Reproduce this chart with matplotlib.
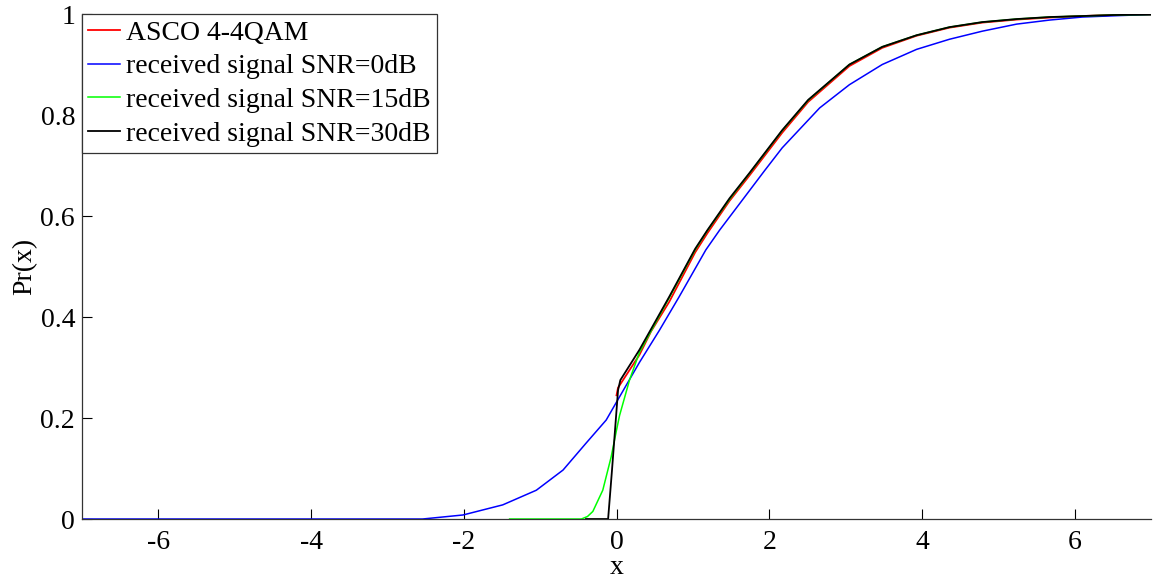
import matplotlib
matplotlib.use("Agg")
import matplotlib.pyplot as plt

plt.rcParams['font.family'] = ['Liberation Serif', 'DejaVu Serif']

# ---- data ----
labels = ["ASCO 4-4QAM", "received signal SNR=0dB",
          "received signal SNR=15dB", "received signal SNR=30dB"]

asco_x = [0.0, 0.02, 0.3, 0.454, 0.69, 1.03, 1.19, 1.48, 1.74, 2.17, 2.51,
          3.05, 3.48, 3.93, 4.36, 4.79, 5.24, 5.67, 6.1, 6.5, 7.0]
asco_y = [0.245, 0.26, 0.325, 0.372, 0.43, 0.528, 0.566, 0.63, 0.68, 0.765,
          0.826, 0.897, 0.933, 0.957, 0.973, 0.983, 0.989, 0.993, 0.996,
          0.998, 0.999]

snr0_x = [-7.0, -2.54, -2.01, -1.49, -1.05, -0.70, -0.40, -0.135, 0.017,
          0.3, 0.563, 0.82, 1.17, 1.35, 1.65, 1.94, 2.17, 2.66, 3.05, 3.48,
          3.93, 4.36, 4.79, 5.24, 5.67, 6.1, 6.6, 7.0]
snr0_y = [0.0, 0.0, 0.008, 0.028, 0.057, 0.097, 0.15, 0.196, 0.236,
          0.31, 0.374, 0.44, 0.533, 0.572, 0.632, 0.69, 0.735, 0.814, 0.86,
          0.90, 0.93, 0.95, 0.966, 0.98, 0.988, 0.994, 0.997, 0.999]

snr15_x = [-1.4, -0.46, -0.38, -0.31, -0.18, -0.07, 0.0, 0.04, 0.17, 0.3,
           0.69, 1.03, 1.19, 1.48, 1.74, 2.17, 2.51, 3.05, 3.48, 3.93, 4.36,
           4.79, 5.24, 5.67, 6.1, 6.5, 7.0]
snr15_y = [0.0, 0.0, 0.005, 0.015, 0.057, 0.123, 0.176, 0.205, 0.275, 0.33,
           0.438, 0.533, 0.571, 0.633, 0.684, 0.769, 0.829, 0.90, 0.935,
           0.958, 0.974, 0.984, 0.99, 0.994, 0.996, 0.998, 0.999]

snr30_x = [-0.4, -0.11, -0.06, -0.02, 0.02, 0.05, 0.3, 0.69, 1.03, 1.19,
           1.48, 1.74, 2.17, 2.51, 3.05, 3.48, 3.93, 4.36, 4.79, 5.24, 5.67,
           6.1, 6.5, 7.0]
snr30_y = [0.0, 0.0, 0.095, 0.175, 0.255, 0.275, 0.335, 0.44, 0.535, 0.572,
           0.635, 0.685, 0.77, 0.83, 0.90, 0.935, 0.958, 0.974, 0.984, 0.99,
           0.994, 0.996, 0.998, 0.999]

xticks = [-6, -4, -2, 0, 2, 4, 6]
yticks = [0, 0.2, 0.4, 0.6, 0.8, 1]
ytick_labels = ["0", "0.2", "0.4", "0.6", "0.8", "1"]

# ---- figure ----
fig = plt.figure(figsize=(11.53, 5.79), dpi=100)
ax = fig.add_axes([0.0711, 0.1036, 0.9272, 0.8722])

ax.plot(asco_x, asco_y, color='#ff0000', lw=1.3, label=labels[0])
ax.plot(snr0_x, snr0_y, color='#0000ff', lw=1.1, label=labels[1])
ax.plot(snr15_x, snr15_y, color='#00ff00', lw=1.1, label=labels[2])
ax.plot(snr30_x, snr30_y, color='#000000', lw=1.3, label=labels[3])

ax.set_xlim(-7, 7)
ax.set_ylim(0, 1)
ax.set_xticks(xticks)
ax.set_xticklabels([str(t) for t in xticks])
ax.set_yticks(yticks)
ax.set_yticklabels(ytick_labels)
ax.tick_params(direction='in', length=7, width=0.8, labelsize=20,
               colors='#000000', pad=5)
ax.tick_params(axis='x', pad=8)
ax.spines['top'].set_visible(False)
ax.spines['right'].set_visible(False)
for s in ('left', 'bottom'):
    ax.spines[s].set_color('#333333')
    ax.spines[s].set_linewidth(0.9)

ax.set_xlabel('x', fontsize=20, labelpad=0)
ax.set_ylabel('Pr(x)', fontsize=20, labelpad=2)

leg = ax.legend(loc='upper left', fontsize=20, frameon=True, fancybox=False,
                framealpha=1, edgecolor='#333333', borderaxespad=0,
                handlelength=1.15, handletextpad=0.22, labelspacing=0.3,
                borderpad=0.22)
leg.get_frame().set_linewidth(0.9)

fig.savefig('out.png', dpi=100)
